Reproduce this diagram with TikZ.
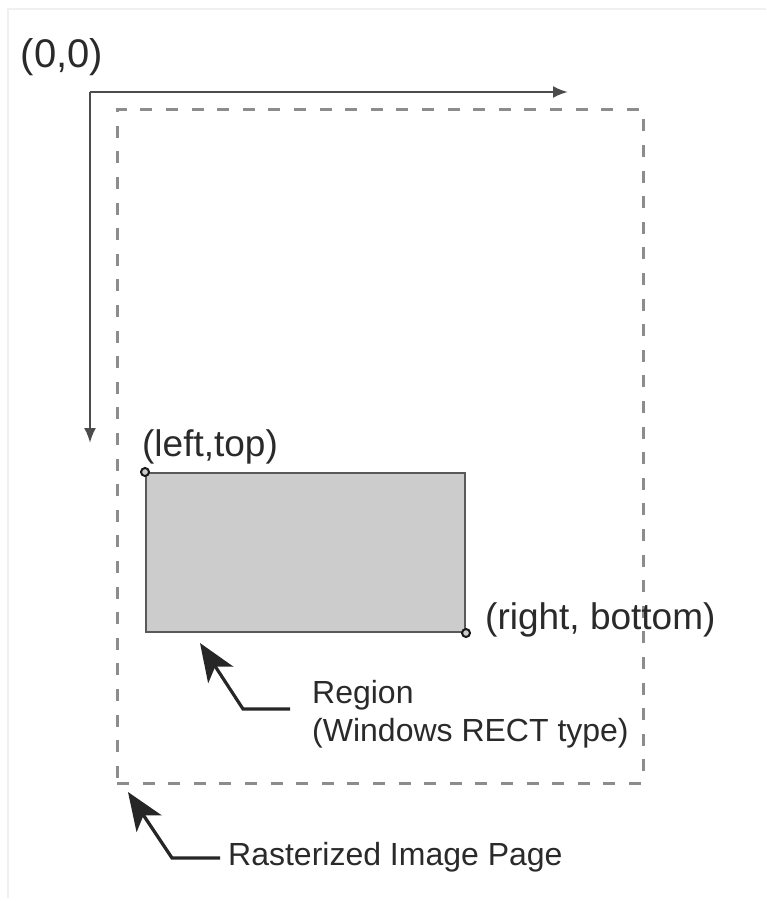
\documentclass[tikz,border=0pt]{standalone}
\usepackage{fontspec}
\setmainfont{Liberation Sans}
\usetikzlibrary{positioning}
\usetikzlibrary{arrows.meta}
\definecolor{inkgray}{HTML}{2A2A2A}
\definecolor{boxgray}{HTML}{CCCCCC}
\tikzset{
	biglbl/.style={inner sep=0pt, text=inkgray, font=\fontsize{37}{40}\selectfont},
	smalllbl/.style={inner sep=0pt, text=inkgray, font=\fontsize{32}{38}\selectfont, align=left},
	axis/.style={draw=black!70, line width=2.4pt, -{Latex[length=15pt,width=12pt]}},
	pagebox/.style={draw=black!45, line width=3pt, dash pattern=on 12pt off 13.6pt, minimum width=526pt, minimum height=673pt, inner sep=0pt},
	rectbox/.style={draw=black!65, fill=boxgray, line width=2pt, minimum width=319pt, minimum height=159pt, inner sep=0pt},
	corner/.style={circle, draw=black!90, fill=boxgray, line width=2pt, minimum size=8pt, inner sep=0pt},
	pointer/.style={draw=black!85, line width=3.2pt, -{Stealth[length=38pt,width=30pt,inset=10pt]}}
}

\begin{document}
\begin{tikzpicture}[x=1pt,y=-1pt]
	\useasboundingbox (0,0) rectangle (766,901);
	% faint scan frame
	\coordinate (f1) at (766,9);
	\coordinate (f2) at (8,9);
	\coordinate (f3) at (8,898);
	\draw[black!6, line width=2pt] (f1) -- (f2) -- (f3);

	\node[biglbl, font=\fontsize{40}{44}\selectfont] (origin) at (62,57) {(0,0)};
	\coordinate (O) at (90,92);
	\coordinate (xend) at (568,92);
	\coordinate (yend) at (90,443);
	\draw[axis] (O) -- (xend);
	\draw[axis] (O) -- (yend);

	\node[pagebox] (page) at (380,446.5) {};
	\node[rectbox] (rect) at (305.5,552.5) {};
	\node[corner] (lt) at (rect.north west) {};
	\node[corner] (rb) at (rect.south east) {};

	\node[biglbl] (ltlbl) at (210,447) {(left,top)};
	\node[biglbl, anchor=west] (rblbl) at (485,620) {(right, bottom)};

	\node[smalllbl, anchor=west] (reglbl) at (312,714) {Region\\(Windows RECT type)};
	\node[smalllbl, anchor=west] (pglbl) at (228,857) {Rasterized Image Page};

	% pointers
	\coordinate (regstart) at (290,709);
	\coordinate (regbend) at (243,709);
	\coordinate (regtip) at (200,643);
	\draw[pointer] (regstart) -- (regbend) -- (regtip);
	\coordinate (pgstart) at (220,858);
	\coordinate (pgbend) at (172,858);
	\coordinate (pgtip) at (128,792);
	\draw[pointer] (pgstart) -- (pgbend) -- (pgtip);
\end{tikzpicture}
\end{document}
